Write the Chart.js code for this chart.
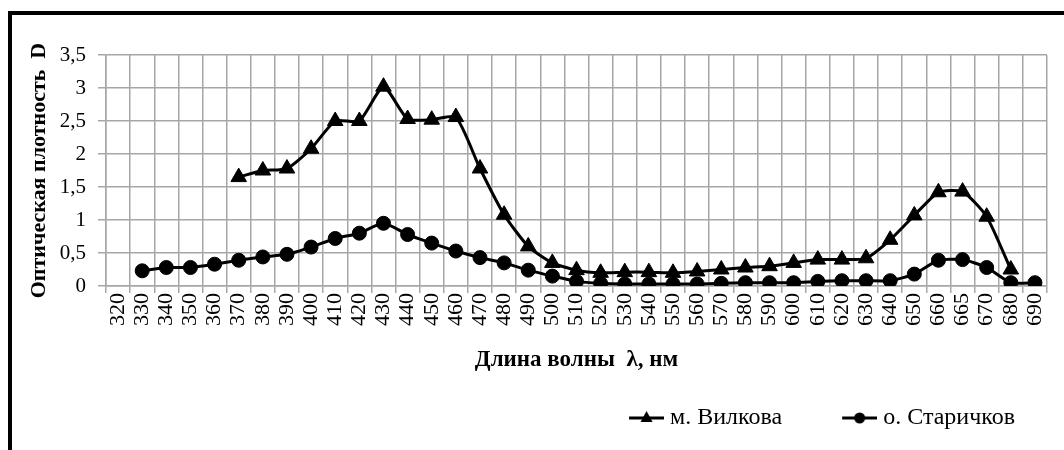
<!DOCTYPE html>
<html>
<head>
<meta charset="utf-8">
<script src="https://cdn.jsdelivr.net/npm/chart.js@4/dist/chart.umd.min.js"></script>
<style>
  html, body { margin:0; padding:0; background:#fff; overflow:hidden; }
  #frame { position:absolute; left:8px; top:11px; width:1100px; height:500px; border:4px solid #000; box-sizing:border-box; }
  #wrap { position:absolute; left:0; top:0; width:1052px; height:435px; }
</style>
</head>
<body>
<div id="frame"><div id="wrap"><canvas id="chart"></canvas></div></div>
<script>
// длины волн, нм
const wavelengths = ['320','330','340','350','360','370','380','390','400','410','420','430','440','450','460','470','480','490','500','510','520','530','540','550','560','570','580','590','600','610','620','630','640','650','660','665','670','680','690']

// оптическая плотность D
const vilkova = [null,null,null,null,null,1.65,1.75,1.78,2.08,2.5,2.5,3.02,2.53,2.52,2.56,1.78,1.08,0.6,0.35,0.24,0.2,0.21,0.21,0.2,0.22,0.25,0.28,0.3,0.35,0.4,0.4,0.42,0.7,1.07,1.42,1.43,1.05,0.25,null]
const starichkov = [null,0.23,0.28,0.28,0.33,0.39,0.44,0.48,0.59,0.72,0.8,0.95,0.78,0.65,0.53,0.43,0.35,0.24,0.15,0.07,0.04,0.03,0.03,0.03,0.03,0.04,0.05,0.05,0.05,0.07,0.08,0.08,0.08,0.18,0.39,0.4,0.28,0.05,0.05]

const seriesNames = ['м. Вилкова', 'о. Старичков']
const yTicks = [0, 0.5, 1, 1.5, 2, 2.5, 3, 3.5]

const serif = "'Liberation Serif', 'Times New Roman', serif"

// значок легенды: линия с маркером
function legendIcon(shape) {
    const c = document.createElement('canvas')
    c.width = 69; c.height = 20
    const g = c.getContext('2d')
    g.strokeStyle = '#000'
    g.fillStyle = '#000'
    g.lineWidth = 3
    g.beginPath(); g.moveTo(34,10); g.lineTo(69,10); g.stroke()
    g.beginPath()
    if (shape === 'triangle') {
        g.moveTo(51.5,3); g.lineTo(57.5,14); g.lineTo(45.5,14); g.closePath()
    } else {
        g.arc(51.5,10,5.5,0,Math.PI*2)
    }
    g.fill()
    return c
}
const icons = [legendIcon('triangle'), legendIcon('circle')]

new Chart(document.getElementById('chart'), {
    type:'line',
    data:{
        labels:wavelengths,
        datasets:[{
            label:seriesNames[0],
            data:vilkova,
            borderColor:'#000',
            backgroundColor:'#000',
            borderWidth:3,
            tension:0.2,
            pointStyle:'triangle',
            pointRadius:9,
            pointBorderWidth:1
        },{
            label:seriesNames[1],
            data:starichkov,
            borderColor:'#000',
            backgroundColor:'#000',
            borderWidth:3,
            tension:0.2,
            pointStyle:'circle',
            pointRadius:7,
            pointBorderWidth:1
        }]
    },
    options:{
        responsive:true,
        maintainAspectRatio:false,
        animation:false,
        layout:{ padding:{ top:40, right:17, bottom:10, left:0 }},
        plugins:{
            tooltip:{ enabled:false },
            legend:{
                position:'bottom',
                align:'end',
                labels:{
                    usePointStyle:true,
                    pointStyleWidth:57,
                    padding:32,
                    color:'#000',
                    font:{ family:serif, size:24 },
                    generateLabels:function(chart){
                        const items = Chart.defaults.plugins.legend.labels.generateLabels(chart)
                        items.forEach((it,i) => { it.pointStyle = icons[i] })
                        return items
                    }
                }
            }
        },
        scales:{
            x:{
                offset:true,
                grid:{ offset:true, color:'#a6a6a6', lineWidth:1.5, tickLength:7 },
                border:{ color:'#a6a6a6', width:1.5 },
                ticks:{ autoSkip:false, minRotation:90, maxRotation:90, padding:0, color:'#000', font:{ family:serif, size:22 }},
                title:{ display:true, text:'Длина волны  λ, нм', color:'#000', padding:0, font:{ family:serif, size:23, weight:'bold' }},
                afterFit:function(s){ s.height = 88 }
            },
            y:{
                min:0,
                max:3.5,
                afterBuildTicks:function(s){ s.ticks = yTicks.map(v => ({ value:v })) },
                grid:{ color:'#a6a6a6', lineWidth:1.5, tickLength:8 },
                border:{ color:'#a6a6a6', width:1.5 },
                ticks:{ padding:12, color:'#000', font:{ family:serif, size:21 }, callback:v => String(v).replace('.', ',') },
                title:{ display:true, text:'Оптическая плотность  D', color:'#000', padding:{ top:14, bottom:0 }, font:{ family:serif, size:22, weight:'bold' }},
                afterFit:function(s){ s.width = 94 }
            }
        }
    }
})
</script>
</body>
</html>
